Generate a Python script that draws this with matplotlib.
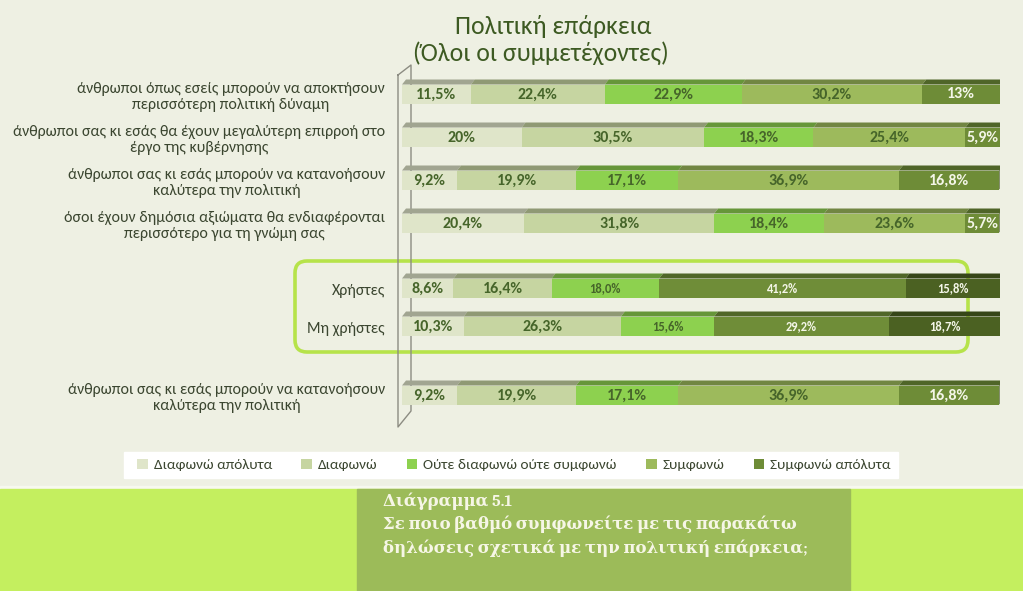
import matplotlib
matplotlib.use("Agg")
import matplotlib.pyplot as plt
from matplotlib.patches import Polygon, Rectangle, FancyBboxPatch
from matplotlib.colors import to_rgb

W, H = 1023, 591

# ---- data ----
row_labels = [
    "άνθρωποι όπως εσείς μπορούν να αποκτήσουν\nπερισσότερη πολιτική δύναμη",
    "άνθρωποι σας κι εσάς θα έχουν μεγαλύτερη επιρροή στο\nέργο της κυβέρνησης",
    "άνθρωποι σας κι εσάς μπορούν να κατανοήσουν\nκαλύτερα την πολιτική",
    "όσοι έχουν δημόσια αξιώματα θα ενδιαφέρονται\nπερισσότερο για τη γνώμη σας",
    "Χρήστες",
    "Μη χρήστες",
    "άνθρωποι σας κι εσάς μπορούν να κατανοήσουν\nκαλύτερα την πολιτική",
]
categories = ["Διαφωνώ απόλυτα", "Διαφωνώ", "Ούτε διαφωνώ ούτε συμφωνώ",
              "Συμφωνώ", "Συμφωνώ απόλυτα"]
diafono_apolyta = ["11,5", "20", "9,2", "20,4", "8,6", "10,3", "9,2"]
diafono = ["22,4", "30,5", "19,9", "31,8", "16,4", "26,3", "19,9"]
oute = ["22,9", "18,3", "17,1", "18,4", "18,0", "15,6", "17,1"]
symfono = ["30,2", "25,4", "36,9", "23,6", "41,2", "29,2", "36,9"]
symfono_apolyta = ["13", "5,9", "16,8", "5,7", "15,8", "18,7", "16,8"]
series = [diafono_apolyta, diafono, oute, symfono, symfono_apolyta]

# ---- layout / style ----
row_y = [94, 137, 180, 223, 288, 326, 395]      # pixel rows
group_rows = [4, 5]
colors = ["#dfe5c9", "#c6d5a1", "#8dd14f", "#9dba5c", "#6e8c37"]
colors_grp = ["#dfe5c9", "#c6d5a1", "#8dd14f", "#6f8d38", "#4b6122"]
txt_dark = "#46652a"
sans = ["Carlito", "DejaVu Sans"]
serif = ["Caladea", "DejaVu Serif"]


def darker(c, f=0.72):
    r, g, b = to_rgb(c)
    return (r * f, g * f, b * f)


fig = plt.figure(figsize=(W / 100, H / 100), dpi=100, facecolor="#eef0e3")

# full-figure canvas in pixel units
cv = fig.add_axes([0, 0, 1, 1], zorder=0)
cv.set_xlim(0, W)
cv.set_ylim(H, 0)
cv.axis("off")

cv.add_patch(Rectangle((0, 486), W, 3, color="#f7f8ef"))
cv.add_patch(Rectangle((0, 489), W, H - 489, color="#c4ef5f"))
cv.add_patch(Rectangle((357, 489), 493, H - 489, color="#9cbb59"))
cv.text(383, 492, "Διάγραμμα 5.1\nΣε ποιο βαθμό συμφωνείτε με τις παρακάτω\n"
        "δηλώσεις σχετικά με την πολιτική επάρκεια;",
        va="top", ha="left", color="#f6f6e6", fontsize=12, fontweight="bold",
        family=serif, linespacing=1.45)

cv.text(553, 26, "Πολιτική επάρκεια", ha="center", va="center",
        fontsize=18.5, color="#3d5a22", family=sans)
cv.text(541, 53, "(Όλοι οι συμμετέχοντες)", ha="center", va="center",
        fontsize=18.5, color="#3d5a22", family=sans)

# 3d wall lines
wall = "#8c8c82"
cv.plot([398, 398, 411, 411, 398], [75, 427, 411, 65, 75], color=wall, lw=1)

# highlight box around users / non users
cv.add_patch(FancyBboxPatch((295, 261), 673, 91, boxstyle="round,pad=0,rounding_size=12",
                            fill=False, edgecolor="#b6e34a", lw=2.6))

# legend strip
cv.add_patch(Rectangle((124, 452), 774, 26, color="white"))

# ---- bars ----
ax = fig.add_axes([402 / W, 1 - 430 / H, 598 / W, 370 / H], zorder=1)
ax.set_xlim(0, 100)
ax.set_ylim(430, 60)
ax.axis("off")
ax.patch.set_alpha(0)

bh = 19
dx = 4 * 100 / 598
dy = 5
handles = []
for i, y in enumerate(row_y):
    left = 0
    pal = colors_grp if i in group_rows else colors
    for j, s in enumerate(series):
        v = float(s[i].replace(",", "."))
        b = ax.barh(y, v, left=left, height=bh, color=pal[j], edgecolor="none")
        if i == 0:
            handles.append(b)
        top = y - bh / 2
        ax.add_patch(Polygon([(left, top), (left + v, top), (left + v + dx, top - dy),
                              (left + dx, top - dy)], closed=True,
                             facecolor=darker(pal[j]), edgecolor="none"))
        if j == len(series) - 1:
            ax.add_patch(Polygon([(left + v, top), (left + v + dx, top - dy),
                                  (left + v + dx, top + bh - dy), (left + v, top + bh)],
                                 closed=True, facecolor=darker(pal[j], 0.55),
                                 edgecolor="none"))
        light = j == 4 or (i in group_rows and j >= 3)
        small = i in group_rows and j >= 2
        ax.text(left + v / 2, y + 0.5, s[i] + "%", ha="center", va="center",
                fontsize=9 if small else 11.5, fontweight="bold",
                color="#f4f6e8" if light else txt_dark, family=sans)
        left += v

    cv.text(385, y + 3, row_labels[i], ha="right", va="center", fontsize=11.4,
            color="#3b4630", family=sans, multialignment="center", linespacing=1.2)

cv.legend([h[0] for h in handles], categories, ncol=5, loc="center",
          bbox_to_anchor=(514 / W, 1 - 465 / H), bbox_transform=fig.transFigure,
          frameon=False, handlelength=0.7, handleheight=0.7, handletextpad=0.4,
          columnspacing=1.9, prop={"family": sans, "size": 11},
          labelcolor="#3b4630")

fig.savefig("out.png", dpi=100, facecolor=fig.get_facecolor())
